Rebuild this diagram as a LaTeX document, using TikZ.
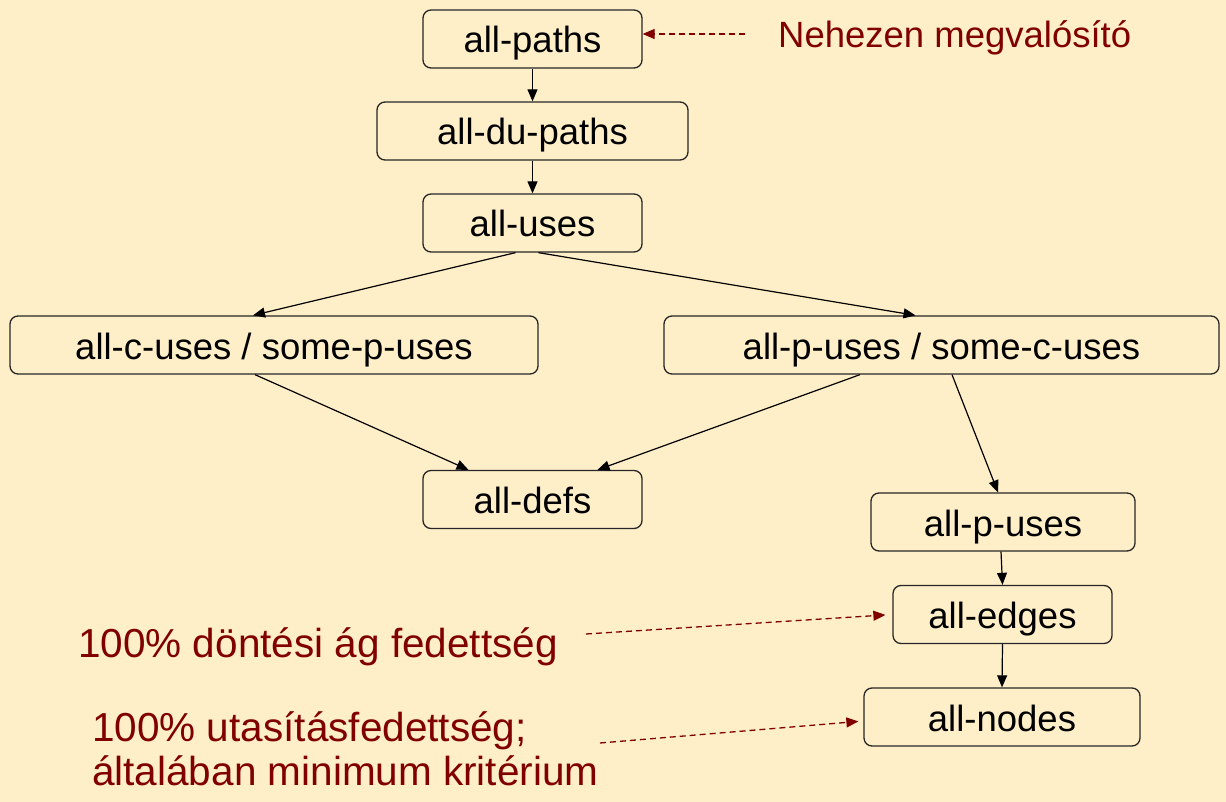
\documentclass[tikz,border=0pt]{standalone}
\usepackage{fontspec}
\setmainfont{Liberation Sans}
\usetikzlibrary{arrows.meta}
\definecolor{bgcol}{RGB}{255,239,201}
\definecolor{maroon}{RGB}{128,0,0}
\begin{document}
\begin{tikzpicture}[x=1pt,y=-1pt,
  box/.style={draw=black!85, line width=1.3pt, rounded corners=8pt, fill=bgcol,
    inner sep=0pt, minimum height=58pt, text height=43pt, text depth=15pt,
    font=\fontsize{36.5}{43}\selectfont},
  conn/.style={line width=1.2pt, -{Triangle[length=12pt,width=10pt]}},
  note/.style={text=maroon, inner sep=0pt, font=\fontsize{36.5}{43}\selectfont},
  bignote/.style={text=maroon, inner sep=0pt, font=\fontsize{40.5}{43.5}\selectfont},
  dconn/.style={draw=maroon, line width=1.3pt, dash pattern=on 6pt off 4pt,
    -{Triangle[length=12pt,width=10pt]}, color=maroon}]
\fill[bgcol] (0,0) rectangle (1226,802);
\useasboundingbox (0,0) rectangle (1226,802);

\node[box, minimum width=219pt] (allpaths) at (532.5,39) {all-paths};
\node[box, minimum width=311pt] (dupaths) at (532.5,131) {all-du-paths};
\node[box, minimum width=219pt] (alluses) at (532.5,223) {all-uses};
\node[box, minimum width=528pt] (cuses) at (274,345) {all-c-uses / some-p-uses};
\node[box, minimum width=555pt] (puses) at (941.5,345) {all-p-uses / some-c-uses};
\node[box, minimum width=219pt] (alldefs) at (532.5,499.5) {all-defs};
\node[box, minimum width=264pt] (allpu) at (1003,522) {all-p-uses};
\node[box, minimum width=219pt] (alledges) at (1002.5,614.5) {all-edges};
\node[box, minimum width=276pt] (allnodes) at (1002,717) {all-nodes};

\node[note, anchor=base west] (nehez) at (778,48) {Nehezen megvalósító};
\node[bignote, anchor=base west] (dontesi) at (78,657) {100\% döntési ág fedettség};
\node[bignote, anchor=base west, align=left] (utasitas) at (92,785)
  {100\% utasításfedettség;\\általában minimum kritérium};

\draw[conn] (allpaths.south) -- (dupaths.north);
\draw[conn] (dupaths.south) -- (alluses.north);
\draw[conn] ([xshift=-17pt]alluses.south) -- ([xshift=-21pt]cuses.north);
\draw[conn] ([xshift=6pt]alluses.south) -- ([xshift=-26pt]puses.north);
\draw[conn] ([xshift=-19pt]cuses.south) -- ([xshift=-64pt]alldefs.north);
\draw[conn] ([xshift=-81.5pt]puses.south) -- ([xshift=65pt]alldefs.north);
\draw[conn] ([xshift=10.5pt]puses.south) -- ([xshift=-5pt]allpu.north);
\draw[conn] ([xshift=-2pt]allpu.south) -- (alledges.north);
\draw[conn] (alledges.south) -- (allnodes.north);

\coordinate (d1) at (745,34);
\coordinate (d2) at (586,634);
\coordinate (d3) at (600,743);
\draw[dconn] (d1) -- (d1 -| allpaths.east);
\draw[dconn, shorten >=7pt] (d2) -- (alledges.west);
\draw[dconn, shorten >=5pt] (d3) -- ([yshift=-4pt]allnodes.west);
\end{tikzpicture}
\end{document}
